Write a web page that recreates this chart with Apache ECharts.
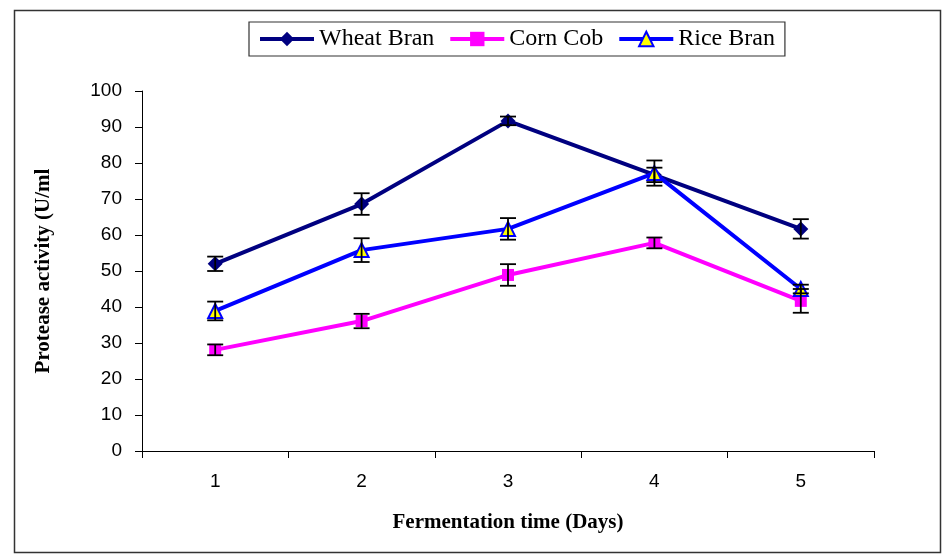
<!DOCTYPE html>
<html><head><meta charset="utf-8">
<script src="https://cdn.jsdelivr.net/npm/echarts@6/dist/echarts.min.js"></script>
<style>html,body{margin:0;padding:0;background:#fff}#c{width:942px;height:554px}</style>
</head><body><div id="c"></div>
<script>
const days = ['1','2','3','4','5'];
const wheatBran = [52, 68.6, 91.7, 76.7, 61.7];
const cornCob = [28.1, 36.1, 48.9, 57.8, 41.7];
const riceBran = [38.9, 55.8, 61.7, 77.2, 45];
const wheatErr = [2, 3, 1.2, 2, 2.7];
const cornErr = [1.5, 2, 3, 1.5, 3.3];
const riceErr = [2.6, 3.3, 3, 3.5, 1.2];
const yTicks = [0,10,20,30,40,50,60,70,80,90,100];

function errData(vals, errs){
  return vals.map((v,i)=>[i, v-errs[i], v+errs[i]]);
}
function errSeries(vals, errs){
  return {
    type:'custom', silent:true, z:5,
    data: errData(vals, errs),
    renderItem: function(params, api){
      const lo = api.coord([api.value(0), api.value(1)]);
      const hi = api.coord([api.value(0), api.value(2)]);
      const w = 8;
      const st = {stroke:'#000', lineWidth:1.8};
      return {type:'group', children:[
        {type:'line', shape:{x1:lo[0],y1:lo[1],x2:hi[0],y2:hi[1]}, style:st},
        {type:'line', shape:{x1:lo[0]-w,y1:lo[1],x2:lo[0]+w,y2:lo[1]}, style:st},
        {type:'line', shape:{x1:hi[0]-w,y1:hi[1],x2:hi[0]+w,y2:hi[1]}, style:st}
      ]};
    }
  };
}
const chart = echarts.init(document.getElementById('c'), null, {renderer:'canvas'});
chart.setOption({
  animation:false,
  backgroundColor:'#fff',
  graphic:[{type:'rect', shape:{x:14.5,y:10.5,width:926,height:542}, style:{fill:'none', stroke:'#333', lineWidth:1.5}, z:-1}],
  legend:{
    left:249, top:22, orient:'horizontal',
    data:['Wheat Bran','Corn Cob','Rice Bran'],
    itemWidth:54, itemHeight:18, itemGap:14,
    padding:[5,10,5,9],
    borderColor:'#333', borderWidth:1.2,
    lineStyle:{width:4},
    textStyle:{fontFamily:'Liberation Serif', fontSize:24, color:'#000'}
  },
  grid:{left:142, right:68, top:91, bottom:103, containLabel:false},
  xAxis:{
    type:'category', data:days, boundaryGap:true,
    name:'Fermentation time (Days)', nameLocation:'middle', nameGap:61,
    nameTextStyle:{fontFamily:'Liberation Serif', fontWeight:'bold', fontSize:21, color:'#000'},
    axisLine:{lineStyle:{color:'#000', width:1}},
    axisTick:{show:true, length:7, lineStyle:{color:'#000'}},
    axisLabel:{fontFamily:'Liberation Sans', fontSize:19, color:'#000', margin:21}
  },
  yAxis:{
    type:'value', min:0, max:100, interval:10,
    name:'Protease activity (U/ml', nameLocation:'middle', nameGap:88, nameRotate:90,
    nameTextStyle:{fontFamily:'Liberation Serif', fontWeight:'bold', fontSize:21, color:'#000'},
    axisLine:{show:true, lineStyle:{color:'#000', width:1}},
    axisTick:{show:true, length:7, lineStyle:{color:'#000'}},
    splitLine:{show:false},
    axisLabel:{fontFamily:'Liberation Sans', fontSize:19, color:'#000', margin:20,
      formatter:function(v){ return yTicks.indexOf(v)>=0 ? String(v) : ''; }}
  },
  series:[
    {name:'Wheat Bran', type:'line', data:wheatBran, z:3, symbol:'diamond', symbolSize:15,
     lineStyle:{color:'#000080', width:4}, itemStyle:{color:'#000080'}},
    {name:'Corn Cob', type:'line', data:cornCob, z:3, symbol:'rect', symbolSize:12,
     lineStyle:{color:'#FF00FF', width:4}, itemStyle:{color:'#FF00FF'}},
    {name:'Rice Bran', type:'line', data:riceBran, z:4, symbol:'triangle', symbolSize:14,
     lineStyle:{color:'#0000FF', width:4}, itemStyle:{color:'#FFFF00', borderColor:'#0000FF', borderWidth:2}},
    errSeries(wheatBran, wheatErr),
    errSeries(cornCob, cornErr),
    errSeries(riceBran, riceErr)
  ]
});
</script></body></html>
